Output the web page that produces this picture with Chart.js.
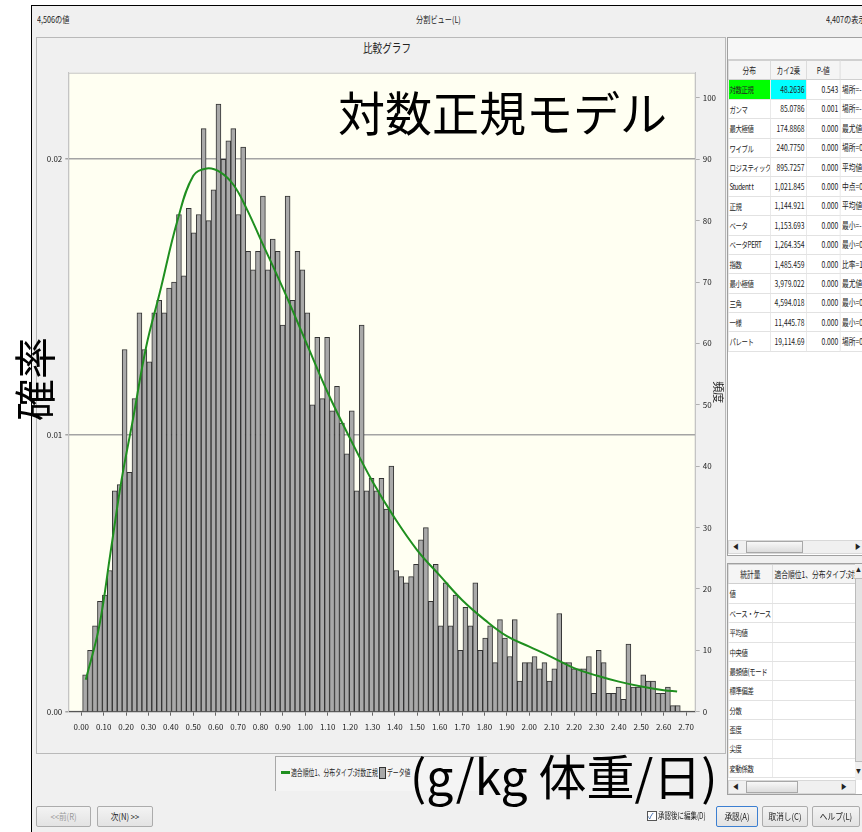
<!DOCTYPE html>
<html lang="ja">
<head>
<meta charset="UTF-8">
<title>比較グラフ</title>
<script src="https://cdn.jsdelivr.net/npm/chart.js@4.4.1/dist/chart.umd.min.js"></script>
<style>
  body { margin:0; width:862px; height:832px; position:relative; overflow:hidden; background:#fff;
         font-family:"Noto Sans CJK JP","Noto Sans",sans-serif; color:#222; }
  .abs { position:absolute; }
  .chico { font-size:9px; white-space:nowrap; line-height:1; transform:scaleX(0.8); transform-origin:0 0; }
  #ventana { left:31px; top:5px; width:831px; height:827px; background:#f0f0f0; border-left:1px solid #000; border-top:1px solid #000; }
  #panel { left:36px; top:37px; width:688px; height:715px; border:1px solid #b9b9b9; }
  #grafWrap { left:0; top:0; width:725px; height:760px; }
  .grande { color:#000; white-space:nowrap; line-height:1; font-weight:400; }
  #leyenda { left:275px; top:756px; width:211px; height:34px; border-top:1px solid #a8a8a8; border-left:1px solid #a8a8a8; background:#f4f4f4; }
  .boton { height:19px; border:1px solid #acacac; background:linear-gradient(#f3f3f3,#e3e3e3); border-radius:2px; overflow:hidden; }
  .boton span { display:block; font-size:9px; line-height:19px; text-align:center; transform:scaleX(0.85); white-space:nowrap; }
  .caja { background:#fff; border:1px solid #a0a0a0; overflow:hidden; }
  .comprimido { position:absolute; left:0; transform:scaleX(0.75); transform-origin:0 0; }
  table { border-collapse:collapse; table-layout:fixed; font-size:9px; }
  td { height:18.4px; border:1px solid #e2e2e2; padding:0 2px; white-space:nowrap; overflow:hidden; line-height:1; }
  td.num { text-align:right; }
  td.nom { font-size:8.5px; letter-spacing:-0.5px; padding-left:1px; }
  tr.cab td { background:#f5f5f5; text-align:center; border-color:#d0d0d0; letter-spacing:0; }
  .scroll { background:#f0f0f0; border:1px solid #d8d8d8; height:12px; }
  .thumb { background:linear-gradient(#f8f8f8,#dcdcdc); border:1px solid #a8a8a8; height:10px; top:0; }
</style>
</head>
<body>
<div id="ventana" class="abs"></div>
<div class="abs chico" style="left:37px; top:15px;">4,506の値</div>
<div class="abs chico" style="left:416px; top:15px;">分割ビュー(L)</div>
<div class="abs chico" style="left:826px; top:15px;">4,407の表示</div>
<div id="panel" class="abs"></div>
<div class="abs chico" style="left:363px; top:42px; font-size:12px;">比較グラフ</div>

<div id="grafWrap" class="abs"><canvas id="grafica"></canvas></div>

<div class="abs grande" style="left:338px; top:87px; font-size:47px;">対数正規モデル</div>
<div class="abs grande" style="left:12px; top:421px; font-size:42px; transform:rotate(-90deg); transform-origin:0 0;">確率</div>

<div id="leyenda" class="abs">
  <div class="abs" style="left:5px; top:14px; width:9px; height:3px; background:#1f8f1f;"></div>
  <div class="abs chico" style="left:15px; top:11px; transform:scaleX(0.65);">適合順位1、分布タイプ:対数正規</div>
  <div class="abs" style="left:103px; top:10px; width:5px; height:10px; background:#a9a9a9; border:1px solid #333;"></div>
  <div class="abs chico" style="left:111px; top:11px; transform:scaleX(0.65);">データ値</div>
</div>
<div class="abs grande" style="left:410px; top:750px; font-size:48px;">(g/kg 体重/日)</div>

<div class="abs boton" style="left:36px; top:806px; width:53px; color:#9a9a9a;"><span>&lt;&lt;前(R)</span></div>
<div class="abs boton" style="left:97px; top:806px; width:54px;"><span>次(N) &gt;&gt;</span></div>
<div class="abs" style="left:647px; top:811px; width:8px; height:8px; border:1px solid #555; background:#fff; font-size:8px; line-height:8px; color:#1a4fa0;">✓</div>
<div class="abs chico" style="left:658px; top:811px; transform:scaleX(0.72);">承認後に編集(D)</div>
<div class="abs boton" style="left:716px; top:806px; width:40px; border-color:#3c7fd1;"><span>承認(A)</span></div>
<div class="abs boton" style="left:762px; top:806px; width:44px;"><span>取消し(C)</span></div>
<div class="abs boton" style="left:812px; top:806px; width:46px;"><span>ヘルプ(L)</span></div>

<div id="tabla1Box" class="abs caja" style="left:727px; top:37px; width:140px; height:517px;">
  <div class="abs" style="left:0; top:0; width:140px; height:21px; background:#f7f7f7; border-bottom:1px solid #d0d0d0;"></div>
  <div class="comprimido" style="top:22px;"><table id="tabla1" style="width:229px;"></table></div>
  <div class="abs scroll" style="left:0; top:502px; width:140px;">
    <div class="abs chico" style="left:4px; top:2px; font-size:7px;">◀</div>
    <div class="abs thumb" style="left:17px; width:55px;"></div>
    <div class="abs chico" style="left:126px; top:2px; font-size:7px;">▶</div>
  </div>
</div>

<div id="tabla2Box" class="abs caja" style="left:727px; top:563px; width:140px; height:230px;">
  <div class="comprimido" style="top:0;"><table id="tabla2" style="width:170px;"></table></div>
  <div class="abs" style="left:127px; top:0; width:8px; height:216px; background:#f0f0f0;">
    <div class="abs chico" style="left:1px; top:3px; font-size:6px;">▲</div>
    <div class="abs" style="left:0; top:14px; width:7px; height:182px; background:#e4e4e4; border:1px solid #bbb;"></div>
    <div class="abs chico" style="left:1px; top:204px; font-size:6px;">▼</div>
  </div>
  <div class="abs scroll" style="left:0; top:216px; width:126px;">
    <div class="abs chico" style="left:4px; top:2px; font-size:7px;">◀</div>
    <div class="abs thumb" style="left:17px; width:50px;"></div>
    <div class="abs chico" style="left:112px; top:2px; font-size:7px;">▶</div>
  </div>
</div>

<script>
// Datos del histograma (frecuencias)
const totalValores = 4506;
const inicioClase = 0.006;
const anchoClase = 0.02205;
const frecuencias = [
  6, 10, 14, 18, 19, 23, 36, 37, 59, 39,
  51, 65, 59, 57, 65, 67, 65, 69, 70, 81,
  71, 82, 78, 81, 95, 80, 85, 99, 90, 93,
  95, 81, 92, 75, 72, 75, 84, 72, 77, 75,
  63, 84, 67, 75, 72, 65, 50, 61, 51, 61,
  49, 53, 47, 42, 49, 36, 63, 36, 38, 36,
  38, 33, 40, 23, 22, 21, 22, 24, 28, 30,
  18, 24, 14, 21, 14, 19, 10, 17, 14, 21,
  10, 12, 14, 8, 15, 12, 9, 15, 5, 8,
  8, 9, 7, 8, 5, 7, 16, 8, 8, 7,
  7, 7, 9, 3, 10, 8, 3, 3, 4, 2,
  11, 4, 4, 6, 5, 5, 3, 3, 4, 1, 1
];
// Curva ajustada (log-normal), en unidades de frecuencia
const curvaX = [0.02, 0.08, 0.13, 0.18, 0.23, 0.29, 0.35, 0.43, 0.50, 0.56, 0.62, 0.68, 0.74, 0.80, 0.90,
                1.00, 1.10, 1.20, 1.30, 1.40, 1.50, 1.60, 1.70, 1.80, 1.90, 2.00, 2.10, 2.20, 2.30, 2.40,
                2.50, 2.60, 2.66];
const curvaY = [5.2, 13.9, 25.8, 37.8, 47.5, 59.5, 68.2, 80.1, 87.3, 88.5, 87.9, 85.8, 81.8, 77.0, 69.0,
                60.5, 52.0, 44.5, 37.5, 31.5, 26.3, 22.2, 18.2, 15.0, 12.3, 10.6, 8.9, 7.1, 5.9, 4.9,
                4.1, 3.5, 3.3];
// Marcas de los ejes
const ticksX = [0.0, 0.1, 0.2, 0.3, 0.4, 0.5, 0.6, 0.7, 0.8, 0.9, 1.0, 1.1, 1.2, 1.3, 1.4,
                1.5, 1.6, 1.7, 1.8, 1.9, 2.0, 2.1, 2.2, 2.3, 2.4, 2.5, 2.6, 2.7];
const ticksProb = [0, 0.01, 0.02];
const ticksFrec = [0, 10, 20, 30, 40, 50, 60, 70, 80, 90, 100];
const frecMax = 104.1;

// Tablas del panel derecho
const distribuciones = ['対数正規', 'ガンマ', '最大極値', 'ワイブル', 'ロジスティック', 'Student t', '正規',
                        'ベータ', 'ベータPERT', '指数', '最小極値', '三角', '一様', 'パレート'];
const chiCuadrado = ['48.2636', '85.0786', '174.8868', '240.7750', '895.7257', '1,021.845', '1,144.921',
                     '1,153.693', '1,264.354', '1,485.459', '3,979.022', '4,594.018', '11,445.78', '19,114.69'];
const valoresP = ['0.543', '0.001', '0.000', '0.000', '0.000', '0.000', '0.000',
                  '0.000', '0.000', '0.000', '0.000', '0.000', '0.000', '0.000'];
const parametros = ['場所=-', '場所=-', '最尤値', '場所=0', '平均値', '中点=0', '平均値',
                    '最小=-', '最小=0', '比率=1', '最尤値', '最小=0', '最小=0', '場所=0'];
const estadisticos = ['値', 'ベース・ケース', '平均値', '中央値', '最頻値(モード', '標準偏差', '分散', '歪度', '尖度', '変動係数'];

let html = '<colgroup><col style="width:56px"><col style="width:48px"><col style="width:45px"><col style="width:80px"></colgroup>';
html += '<tr class="cab"><td>分布</td><td>カイ2乗</td><td>P-値</td><td></td></tr>';
distribuciones.forEach((d, i) => {
  const c1 = i === 0 ? ' style="background:#00ff00"' : '';
  const c2 = i === 0 ? ' style="background:#00ffff"' : '';
  html += `<tr><td class="nom"${c1}>${d}</td><td class="num"${c2}>${chiCuadrado[i]}</td><td class="num">${valoresP[i]}</td><td>${parametros[i]}</td></tr>`;
});
document.getElementById('tabla1').innerHTML = html;

let html2 = '<colgroup><col style="width:59px"><col style="width:111px"></colgroup>';
html2 += '<tr class="cab"><td>統計量</td><td>適合順位1、分布タイプ:対数正規</td></tr>';
estadisticos.forEach(e => { html2 += `<tr><td class="nom">${e}</td><td></td></tr>`; });
document.getElementById('tabla2').innerHTML = html2;

// Fondo crema y marco del área de trazado
const fondoPlot = {
  id: 'fondoPlot',
  beforeDraw(chart) {
    const {ctx, chartArea: a} = chart;
    ctx.save();
    ctx.fillStyle = '#fffff2';
    ctx.fillRect(a.left, a.top, a.right - a.left, a.bottom - a.top);
    ctx.strokeStyle = '#c4c4c4';
    ctx.lineWidth = 1;
    ctx.strokeRect(a.left + 0.5, a.top + 0.5, a.right - a.left - 1, a.bottom - a.top - 1);
    ctx.restore();
  }
};

const fuente = '"Noto Sans CJK JP", "Noto Sans", sans-serif';
const $grafica = document.querySelector('#grafica');
const grafica = new Chart($grafica, {
  type: 'bar',
  data: {
    datasets: [
      {
        type: 'line',
        label: '適合順位1、分布タイプ:対数正規',
        data: curvaX.map((x, i) => ({x: x, y: curvaY[i]})),
        yAxisID: 'yFrec',
        borderColor: '#1f8f1f',
        borderWidth: 2,
        pointRadius: 0,
        tension: 0.4,
        order: 0
      },
      {
        label: 'データ値',
        data: frecuencias.map((f, i) => ({x: inicioClase + (i + 0.5) * anchoClase, y: f})),
        yAxisID: 'yFrec',
        backgroundColor: '#a9a9a9',
        borderColor: '#333333',
        borderWidth: 1,
        barPercentage: 1,
        categoryPercentage: 1,
        order: 1
      }
    ]
  },
  options: {
    responsive: true,
    maintainAspectRatio: false,
    animation: false,
    layout: { padding: { left: 11, top: 72.7, right: 0, bottom: 0 } },
    plugins: { legend: { display: false }, tooltip: { enabled: false } },
    scales: {
      x: {
        type: 'linear',
        position: 'bottom',
        offset: false,
        min: -0.058,
        max: 2.743,
        afterBuildTicks: s => { s.ticks = ticksX.map(v => ({value: v})); },
        afterFit: s => { s.height = 48.3; },
        grid: { offset: false, drawOnChartArea: false, drawTicks: true, tickLength: 4, color: '#666' },
        border: { display: true, color: '#555', width: 1 },
        ticks: { autoSkip: false, maxRotation: 0, padding: 6, color: '#222',
                 font: { size: 8, family: fuente }, callback: v => v.toFixed(2) }
      },
      yProb: {
        type: 'linear',
        position: 'left',
        min: 0,
        max: frecMax / totalValores,
        afterBuildTicks: s => { s.ticks = ticksProb.map(v => ({value: v})); },
        afterFit: s => { s.width = 57.3; },
        grid: { color: '#a4a4a4', lineWidth: 1.5, drawTicks: true, tickLength: 3 },
        border: { display: true, color: '#c4c4c4' },
        ticks: { padding: 3, color: '#222', font: { size: 8, family: fuente }, callback: v => v.toFixed(2) }
      },
      yFrec: {
        type: 'linear',
        position: 'right',
        min: 0,
        max: frecMax,
        afterBuildTicks: s => { s.ticks = ticksFrec.map(v => ({value: v})); },
        afterFit: s => { s.width = 29.3; },
        grid: { drawOnChartArea: false, drawTicks: true, tickLength: 4, color: '#b0b0b0' },
        border: { display: true, color: '#c4c4c4' },
        title: { display: true, text: '頻度', color: '#222', padding: 0, font: { size: 11, family: fuente } },
        ticks: { padding: 3, color: '#222', font: { size: 8, family: fuente } }
      }
    }
  },
  plugins: [fondoPlot]
});
</script>
</body>
</html>
